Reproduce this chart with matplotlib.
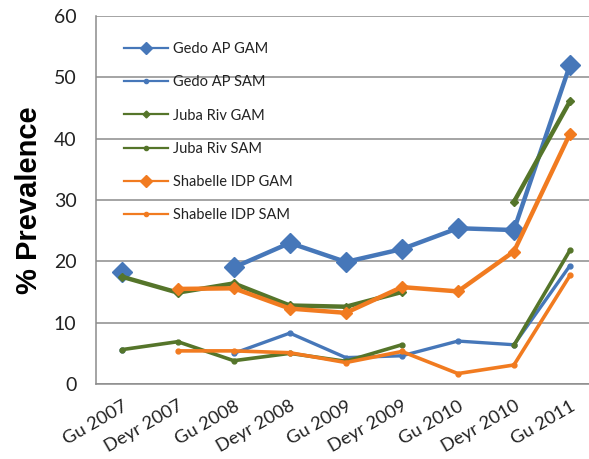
import numpy as np
import matplotlib
matplotlib.use("Agg")
import matplotlib.pyplot as plt
from matplotlib.lines import Line2D

categories = ["Gu 2007", "Deyr 2007", "Gu 2008", "Deyr 2008", "Gu 2009",
              "Deyr 2009", "Gu 2010", "Deyr 2010", "Gu 2011"]
nan = np.nan
gedo_gam = [18.2, nan, 19.0, 23.0, 19.9, 22.0, 25.4, 25.1, 52.0]
gedo_sam = [5.5, nan, 5.0, 8.3, 4.3, 4.6, 7.0, 6.4, 19.3]
juba_gam = [17.5, 14.9, 16.4, 12.8, 12.6, 15.0, nan, 29.7, 46.1]
juba_sam = [5.6, 6.9, 3.8, 5.0, 3.7, 6.4, nan, 6.3, 21.8]
shab_gam = [nan, 15.5, 15.6, 12.3, 11.6, 15.8, 15.1, 21.6, 40.8]
shab_sam = [nan, 5.4, 5.4, 5.1, 3.5, 5.3, 1.7, 3.1, 17.7]
yticks = [0, 10, 20, 30, 40, 50, 60]

blue = "#4677B9"
green = "#55752A"
orange = "#F17B20"

plt.rcParams['font.family'] = ['Lato', 'DejaVu Sans']

fig = plt.figure(figsize=(5.89, 4.59), dpi=100)
ax = fig.add_axes([96/589, 75/459, 1 - 96/589, (384-16)/459])

x = np.arange(len(categories))
series = [
    ("Gedo AP GAM", gedo_gam, blue, 3.2, 'D', 10, 6),
    ("Gedo AP SAM", gedo_sam, blue, 2.4, 'o', 3.5, 3),
    ("Juba Riv GAM", juba_gam, green, 3.2, 'D', 4, 3.5),
    ("Juba Riv SAM", juba_sam, green, 2.6, 'o', 3.5, 3),
    ("Shabelle IDP GAM", shab_gam, orange, 3.2, 'D', 6, 6),
    ("Shabelle IDP SAM", shab_sam, orange, 2.6, 'o', 3.5, 3),
]
handles = []
for name, vals, c, lw, m, ms, lms in series:
    v = np.array(vals, dtype=float)
    ax.plot(x, v, color=c, lw=lw, marker=m, markersize=ms,
            solid_joinstyle='round', solid_capstyle='round', zorder=3)
    handles.append(Line2D([0], [0], color=c, lw=1.6, marker=m, markersize=lms))

ax.set_ylim(0, 60)
ax.set_xlim(-0.46, 8.34)
ax.set_yticks(yticks)
ax.set_yticklabels([str(t) for t in yticks], fontsize=14)
ax.set_xticks(x)
ax.set_xticklabels(categories, fontsize=13.2, rotation=30, ha='right',
                   rotation_mode='anchor')
ax.tick_params(axis='y', length=0, pad=14, colors='#222222')
ax.tick_params(axis='x', length=0, pad=10, colors='#222222')
ax.yaxis.grid(True, color='#8c8c8c', lw=1.1)
ax.set_axisbelow(True)
for s in ['top', 'right']:
    ax.spines[s].set_visible(False)
for s in ['left', 'bottom']:
    ax.spines[s].set_color('#8c8c8c')
    ax.spines[s].set_linewidth(1.1)

ax.set_ylabel("% Prevalence", fontsize=21, fontweight='bold',
              family=['Liberation Sans', 'DejaVu Sans'], labelpad=8)

leg = ax.legend(handles, [s[0] for s in series], loc='upper left',
                bbox_to_anchor=(0.03, 0.965), frameon=False, fontsize=10.5,
                handlelength=3.0, labelspacing=1.32, handletextpad=0.4)
for t in leg.get_texts():
    t.set_color('#222222')

fig.savefig("out.png", dpi=100)
